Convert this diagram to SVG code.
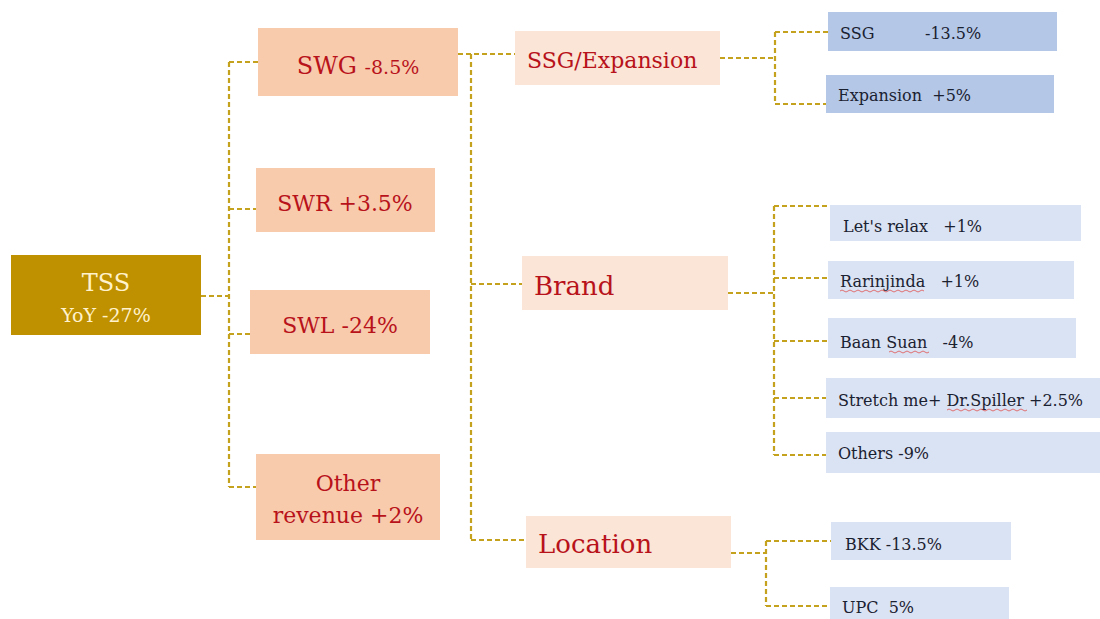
<svg xmlns="http://www.w3.org/2000/svg" width="1100" height="619" viewBox="0 0 1100 619">
<style>
.c{fill:none;stroke:#C4A21E;stroke-width:2.2;stroke-dasharray:5,3}
.l1{fill:#F8CBAD}
.l2{fill:#FBE5D6}
.ssg{fill:#B4C7E7}
.lf{fill:#DAE3F3}
.t{font-family:"DejaVu Serif","Liberation Serif",serif}
.red{fill:#B8121B}
.dk{fill:#1A2130;font-size:16px}
.wv{fill:none;stroke:#E05050;stroke-width:0.8}
</style>
<rect width="1100" height="619" fill="#FFFFFF"/>
<g id="connectors">
<path class="c" d="M201,296 H229 M229,62 V487 M229,62 H258 M229,209 H256 M229,334 H250 M229,487 H256"/>
<path class="c" d="M458,54 H515 M471,54 V540 M471,284 H522 M471,540 H526"/>
<path class="c" d="M720,58 H775 M775,32 V104 M775,32 H828 M775,104 H826"/>
<path class="c" d="M728,293 H774 M774,206 V455 M774,206 H830 M774,278 H828 M774,341 H828 M774,398 H826 M774,455 H826"/>
<path class="c" d="M731,553 H766 M766,541 V606 M766,541 H831 M766,606 H830"/>
</g>
<g id="tss">
<rect x="11" y="255" width="190" height="80" fill="#BF9000"/>
<text class="t" x="106" y="291" text-anchor="middle" font-size="24" fill="#FFF2CC">TSS</text>
<text class="t" x="106" y="322" text-anchor="middle" font-size="19" fill="#FFF2CC">YoY -27%</text>
</g>
<g id="swg">
<rect class="l1" x="258" y="28" width="200" height="68"/>
<text class="t red" x="358" y="74" text-anchor="middle" font-size="24">SWG <tspan font-size="19">-8.5%</tspan></text>
</g>
<g id="swr">
<rect class="l1" x="256" y="168" width="179" height="64"/>
<text class="t red" x="345" y="211" text-anchor="middle" font-size="22">SWR +3.5%</text>
</g>
<g id="swl">
<rect class="l1" x="250" y="290" width="180" height="64"/>
<text class="t red" x="340" y="333" text-anchor="middle" font-size="22">SWL -24%</text>
</g>
<g id="other">
<rect class="l1" x="256" y="454" width="184" height="86"/>
<text class="t red" x="348" y="491" text-anchor="middle" font-size="22">Other</text>
<text class="t red" x="348" y="523" text-anchor="middle" font-size="22">revenue +2%</text>
</g>
<g id="ssgexp">
<rect class="l2" x="515" y="31" width="205" height="54"/>
<text class="t red" x="527" y="68" font-size="22">SSG/Expansion</text>
</g>
<g id="brand">
<rect class="l2" x="522" y="256" width="206" height="54"/>
<text class="t red" x="534" y="295" font-size="26">Brand</text>
</g>
<g id="location">
<rect class="l2" x="526" y="516" width="205" height="52"/>
<text class="t red" x="538" y="553" font-size="26">Location</text>
</g>
<g id="ssg">
<rect class="ssg" x="828" y="12" width="229" height="39"/>
<text class="t dk" x="840" y="39">SSG</text>
<text class="t dk" x="925" y="39">-13.5%</text>
</g>
<g id="expansion">
<rect class="ssg" x="826" y="75" width="228" height="38"/>
<text class="t dk" x="838" y="101" xml:space="preserve">Expansion  +5%</text>
</g>
<g id="letsrelax">
<rect class="lf" x="830" y="205" width="251" height="36"/>
<text class="t dk" x="843" y="232" xml:space="preserve">Let's relax   +1%</text>
</g>
<g id="rarinjinda">
<rect class="lf" x="828" y="261" width="246" height="38"/>
<text class="t dk" x="840" y="287" xml:space="preserve">Rarinjinda   +1%</text>
<path class="wv" d="M840,291 q2,-2 4,0 t4,0 t4,0 t4,0 t4,0 t4,0 t4,0 t4,0 t4,0 t4,0 t4,0 t4,0 t4,0 t4,0 t4,0 t4,0 t4,0 t4,0 t4,0 t4,0 t4,0"/>
</g>
<g id="baansuan">
<rect class="lf" x="828" y="318" width="248" height="40"/>
<text class="t dk" x="840" y="348" xml:space="preserve">Baan Suan   -4%</text>
<path class="wv" d="M889,352 q2,-2 4,0 t4,0 t4,0 t4,0 t4,0 t4,0 t4,0 t4,0 t4,0 t4,0"/>
</g>
<g id="stretchme">
<rect class="lf" x="826" y="378" width="274" height="40"/>
<text class="t dk" x="838" y="406">Stretch me+ Dr.Spiller +2.5%</text>
<path class="wv" d="M947,410 q2,-2 4,0 t4,0 t4,0 t4,0 t4,0 t4,0 t4,0 t4,0 t4,0 t4,0 t4,0 t4,0 t4,0 t4,0 t4,0 t4,0 t4,0 t4,0 t4,0 t4,0"/>
</g>
<g id="others">
<rect class="lf" x="826" y="432" width="274" height="41"/>
<text class="t dk" x="838" y="459">Others -9%</text>
</g>
<g id="bkk">
<rect class="lf" x="831" y="522" width="180" height="38"/>
<text class="t dk" x="845" y="550">BKK -13.5%</text>
</g>
<g id="upc">
<rect class="lf" x="830" y="587" width="179" height="32"/>
<text class="t dk" x="842" y="613" xml:space="preserve">UPC  5%</text>
</g>
</svg>
